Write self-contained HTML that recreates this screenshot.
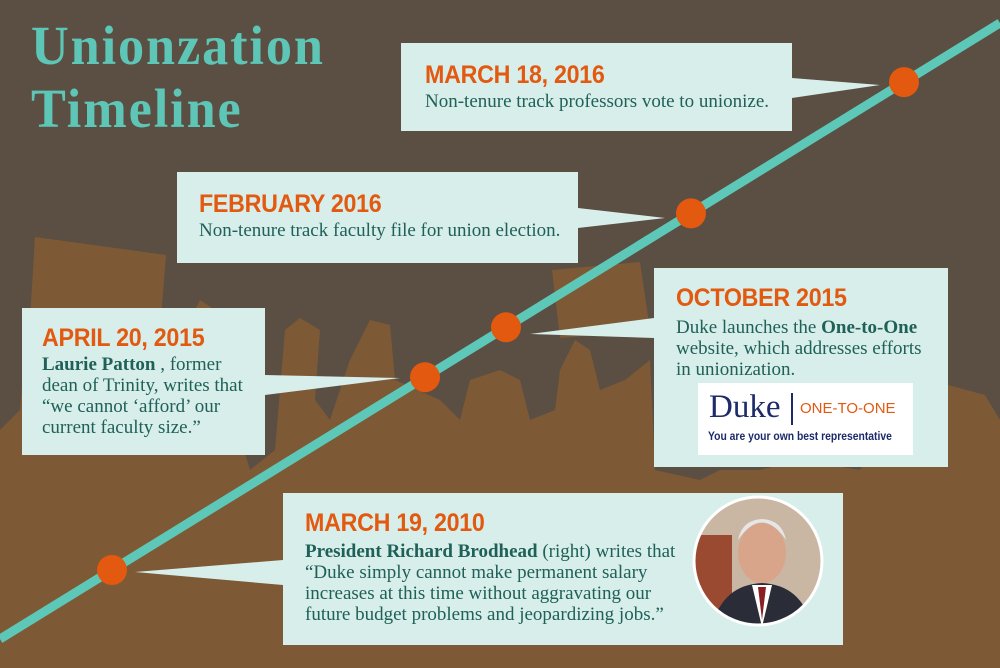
<!DOCTYPE html>
<html><head><meta charset="utf-8"><style>
body{margin:0;width:1000px;height:668px;overflow:hidden;background:#5b4e43;position:relative;font-family:"Liberation Serif",serif}
.box{position:absolute;background:#d7eeea;box-sizing:border-box}
.h{font-family:"Liberation Sans",sans-serif;font-weight:bold;color:#e2590f;font-size:25px;line-height:28px;letter-spacing:-0.3px;transform:scaleX(0.93);transform-origin:left;white-space:nowrap}
.t{color:#1f6058;font-size:19px;line-height:21px;white-space:nowrap}
.t b{font-weight:bold}
</style></head><body>
<svg width="1000" height="668" style="position:absolute;left:0;top:0">
<g id="crowd" fill="#7d5a35">
<polygon points="35,237 166,255 160,330 30,320"/>
<polygon points="552,270 640,262 650,330 560,338"/>
<polygon points="830,270 940,280 935,350 835,340"/>
<polygon points="930,380 985,395 1000,420 1000,668 0,668 0,430 20,410 25,350 50,330 70,360 90,420 140,430 170,400 180,340 200,300 215,310 210,380 235,420 250,470 275,450 285,330 300,318 320,330 315,400 330,420 350,360 370,320 390,325 395,380 440,400 460,420 470,380 500,370 520,380 530,420 555,410 560,370 575,340 590,350 600,390 625,380 650,360 655,470 700,480 720,470 760,470 800,460 860,470 900,400"/>
</g>
<g id="chart"></g>
</svg>
<div class="box" style="left:401px;top:43px;width:391px;height:88px;padding:18px 0 0 24px">
<div class="h">MARCH 18, 2016</div><div class="t" style="margin-top:2px">Non-tenure track professors vote to unionize.</div></div>
<div class="box" style="left:177px;top:172px;width:401px;height:91px;padding:18px 0 0 22px">
<div class="h">FEBRUARY 2016</div><div class="t" style="margin-top:2px">Non-tenure track faculty file for union election.</div></div>
<div class="box" style="left:654px;top:268px;width:294px;height:199px;padding:16px 0 0 22px">
<div class="h">OCTOBER 2015</div><div class="t" style="margin-top:5px">Duke launches the <b>One-to-One</b><br>website, which addresses efforts<br>in unionization.</div>
<div style="position:absolute;left:44px;top:115px;width:215px;height:72px;background:#fff">
<div style="position:absolute;left:11px;top:6px;font-size:33px;color:#1d2b6b">Duke</div>
<div style="position:absolute;left:93px;top:10px;width:2px;height:32px;background:#1d2b6b"></div>
<div style="position:absolute;left:102px;top:17px;font-family:'Liberation Sans',sans-serif;font-size:15px;color:#e2590f">ONE-TO-ONE</div>
<div style="position:absolute;left:10px;top:48px;font-family:'Liberation Sans',sans-serif;font-weight:bold;font-size:11.5px;color:#1d2b6b;white-space:nowrap;transform:scaleX(0.9);transform-origin:left">You are your own best representative</div></div></div>
<div class="box" style="left:22px;top:308px;width:243px;height:147px;padding:16px 0 0 20px">
<div class="h">APRIL 20, 2015</div><div class="t" style="margin-top:2px"><b>Laurie Patton</b> , former<br>dean of Trinity, writes that<br>“we cannot ‘afford’ our<br>current faculty size.”</div></div>
<div class="box" style="left:283px;top:493px;width:560px;height:152px;padding:16px 0 0 22px">
<div class="h">MARCH 19, 2010</div><div class="t" style="margin-top:4px"><b>President Richard Brodhead</b> (right) writes that<br>“Duke simply cannot make permanent salary<br>increases at this time without aggravating our<br>future budget problems and jeopardizing jobs.”</div>
<svg style="position:absolute;left:409px;top:2px" width="132" height="132">
<defs><clipPath id="c"><circle cx="66" cy="66" r="64"/></clipPath></defs>
<g clip-path="url(#c)"><rect width="132" height="132" fill="#c9b7a4"/><rect x="0" y="40" width="40" height="92" fill="#9a4a30"/>
<ellipse cx="70" cy="58" rx="24" ry="30" fill="#d9a58a"/><path d="M46 45 Q70 10 94 45 Q90 25 70 24 Q50 25 46 45Z" fill="#e6e6e6"/>
<path d="M20 132 Q30 90 70 88 Q110 90 120 132Z" fill="#2a2d38"/><path d="M60 90 L70 132 L80 90Z" fill="#fff"/><path d="M66 92 L70 125 L74 92Z" fill="#8a1e22"/></g>
<circle cx="66" cy="66" r="64" fill="none" stroke="#fff" stroke-width="3"/></svg></div>
<script>
const events=['March 19, 2010','April 20, 2015','October 2015','February 2016','March 18, 2016'];
const progress=[0.112,0.425,0.506,0.691,0.904];
const callouts=[[135,572,283,560,283,585],[400,378,265,375,265,395],[530,334,654,318,654,338],[665,218,578,208,578,228],[880,85,792,78,792,98]];
const svg=document.getElementById('chart');const NS='http://www.w3.org/2000/svg';
const x0=0,y0=639,x1=1000,y1=23;
const sx=p=>x0+(x1-x0)*p, sy=p=>y0+(y1-y0)*p;
callouts.forEach((c,i)=>{const pg=document.createElementNS(NS,'polygon');
pg.setAttribute('points',`${c[0]},${c[1]} ${c[2]},${c[3]} ${c[4]},${c[5]}`);pg.setAttribute('fill','#d7eeea');


svg.appendChild(pg);});
const ln=document.createElementNS(NS,'line');
ln.setAttribute('x1',x0);ln.setAttribute('y1',y0);ln.setAttribute('x2',x1);ln.setAttribute('y2',y1);
ln.setAttribute('stroke','#5dc7b8');ln.setAttribute('stroke-width','9');


svg.appendChild(ln);
progress.forEach((p,i)=>{const c=document.createElementNS(NS,'circle');
c.setAttribute('cx',sx(p));c.setAttribute('cy',sy(p));c.setAttribute('r',15);c.setAttribute('fill','#e2590f');


svg.appendChild(c);});
</script>
<div style="position:absolute;left:31px;top:14px;font-size:55px;line-height:63px;font-weight:bold;color:#5ec6b6;letter-spacing:2px;transform:scaleX(0.95);transform-origin:left">Unionzation<br>Timeline</div>
</body></html>
